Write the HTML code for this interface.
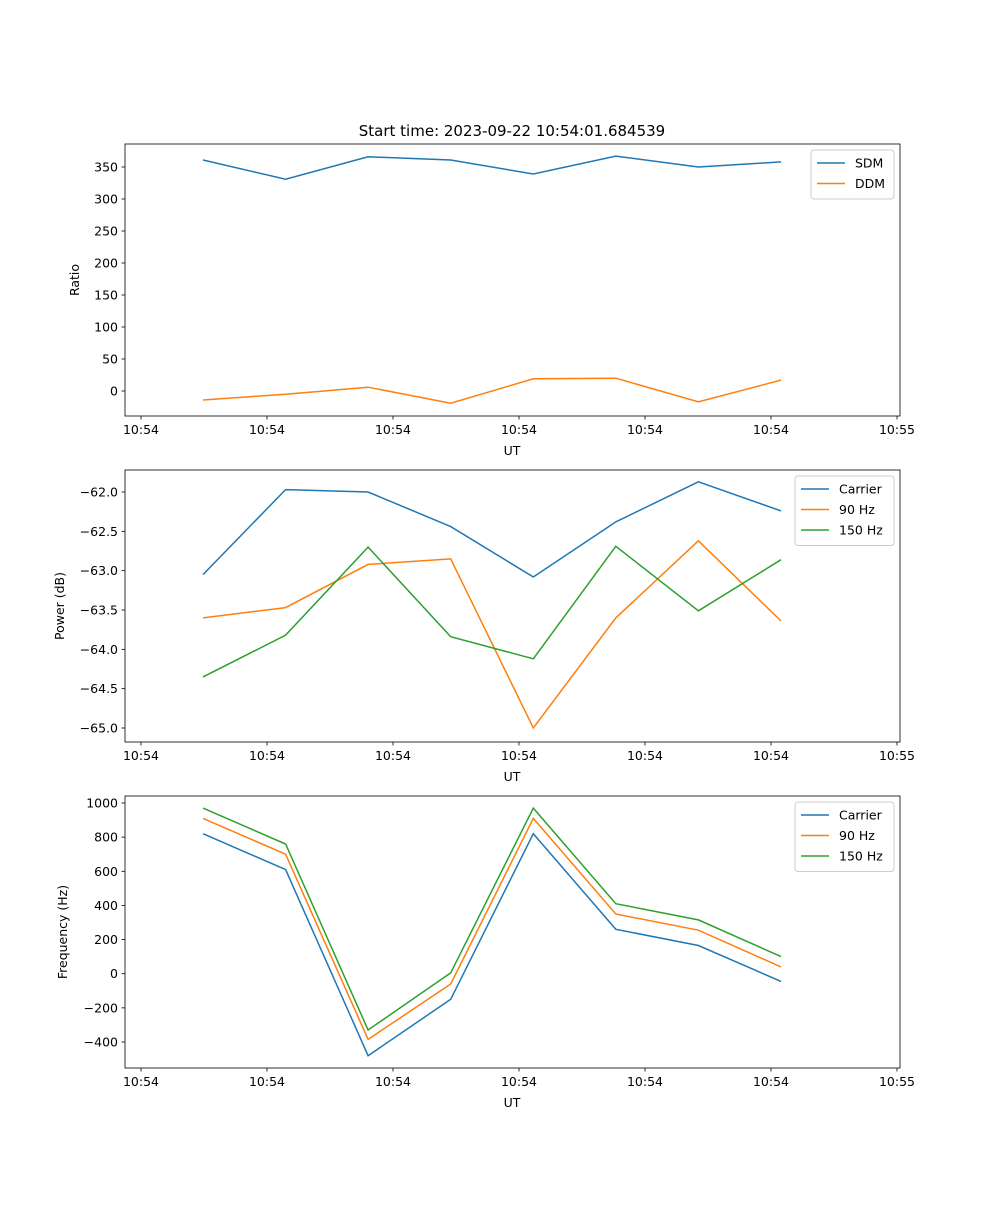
<!DOCTYPE html>
<html><head><meta charset="utf-8"><style>
body{margin:0;background:#fff;font-family:"Liberation Sans","DejaVu Sans",sans-serif;}
svg text{font-family:"DejaVu Sans","Liberation Sans",sans-serif;font-size:12.5px;fill:#000;}
</style></head><body>
<svg id="fig" width="1000" height="1200" xmlns="http://www.w3.org/2000/svg">
<text x="512" y="136" text-anchor="middle" style="font-size:15px">Start time: 2023-09-22 10:54:01.684539</text>
</svg>
<script>
const xTickLabels=["10:54","10:54","10:54","10:54","10:54","10:54","10:55"];
const sdm=[361,331,366,361,339,367,350,358];
const ddm=[-14,-5,6,-19,19,20,-17,17];
const pCarrier=[-63.05,-61.97,-62.0,-62.44,-63.08,-62.38,-61.87,-62.24];
const p90=[-63.6,-63.47,-62.92,-62.85,-65.0,-63.6,-62.62,-63.64];
const p150=[-64.35,-63.82,-62.7,-63.84,-64.12,-62.69,-63.51,-62.86];
const fCarrier=[820,610,-480,-150,820,260,165,-45];
const f90=[910,700,-385,-60,910,350,255,40];
const f150=[970,760,-330,5,970,410,315,100];
const ratioTicks=[0,50,100,150,200,250,300,350];
const powerTicks=[-65.0,-64.5,-64.0,-63.5,-63.0,-62.5,-62.0];
const freqTicks=[-400,-200,0,200,400,600,800,1000];

const NS="http://www.w3.org/2000/svg";
const svg=document.getElementById('fig');
const L=125,R=900;
function xPos(i){return 203+i*82.57;}
function mk(tag,attrs,parent){const e=document.createElementNS(NS,tag);for(const k in attrs)e.setAttribute(k,attrs[k]);(parent||svg).appendChild(e);return e;}
function panel(name,top,bot,v0,y0,v1,y1,ticks,fmt,ylabel,ylx,series,legend){
  const g=mk('g',{});
  
  
  const yPos=v=>y0+(v-v0)*(y1-y0)/(v1-v0);
  series.forEach(s=>{
    const pts=s.data.map((v,i)=>xPos(i).toFixed(1)+','+yPos(v).toFixed(1)).join(' ');
    const pl=mk('polyline',{points:pts,fill:'none',stroke:s.color,'stroke-width':1.5},g);
    
    
  });
  mk('rect',{x:L,y:top,width:R-L,height:bot-top,fill:'none',stroke:'#000','stroke-width':0.8},g);
  ticks.forEach(t=>{
    const y=yPos(t);
    mk('line',{x1:L-3.5,x2:L,y1:y,y2:y,stroke:'#000','stroke-width':0.8},g);
    const tx=mk('text',{x:L-7,y:y+4.5,'text-anchor':'end'},g);tx.textContent=fmt(t);
    
    
  });
  xTickLabels.forEach((lb,i)=>{
    const x=141+i*126;
    mk('line',{x1:x,x2:x,y1:bot,y2:bot+3.5,stroke:'#000','stroke-width':0.8},g);
    const tx=mk('text',{x:x,y:bot+18,'text-anchor':'middle'},g);tx.textContent=lb;
    
    
  });
  const xl=mk('text',{x:512,y:bot+39,'text-anchor':'middle'},g);xl.textContent='UT';
  
  
  const cy=(top+bot)/2;
  const yl=mk('text',{x:ylx,y:cy,'text-anchor':'middle',transform:'rotate(-90 '+ylx+' '+cy+')'},g);yl.textContent=ylabel;
  
  
  const lw=legend.w, lx=R-6-lw, ly=top+6, lh=8+series.length*20.5;
  const lg=mk('g',{},g);
  
  
  mk('rect',{x:lx,y:ly,width:lw,height:lh,fill:'#fff',stroke:'#ccc',rx:3},lg);
  series.forEach((s,i)=>{
    const yy=ly+13+i*20.5;
    mk('line',{x1:lx+6,x2:lx+34,y1:yy,y2:yy,stroke:s.color,'stroke-width':1.5},lg);
    const t=mk('text',{x:lx+44,y:yy+4.5},lg);t.textContent=s.label;
    
    
  });
}
const C1='#1f77b4',C2='#ff7f0e',C3='#2ca02c';
panel('ratio',144,416,0,391,350,167,ratioTicks,v=>String(v),'Ratio',79,
 [{key:'sdm',label:'SDM',color:C1,data:sdm},{key:'ddm',label:'DDM',color:C2,data:ddm}],{w:83});
panel('power',470,742,-62,492,-65,728,powerTicks,v=>(v<0?'\u2212':'')+Math.abs(v).toFixed(1),'Power (dB)',64,
 [{key:'carrier',label:'Carrier',color:C1,data:pCarrier},{key:'90hz',label:'90 Hz',color:C2,data:p90},{key:'150hz',label:'150 Hz',color:C3,data:p150}],{w:99});
panel('frequency',796,1068,1000,803,-400,1042,freqTicks,v=>(v<0?'\u2212':'')+Math.abs(v),'Frequency (Hz)',67,
 [{key:'carrier',label:'Carrier',color:C1,data:fCarrier},{key:'90hz',label:'90 Hz',color:C2,data:f90},{key:'150hz',label:'150 Hz',color:C3,data:f150}],{w:99});
</script>
</body></html>
